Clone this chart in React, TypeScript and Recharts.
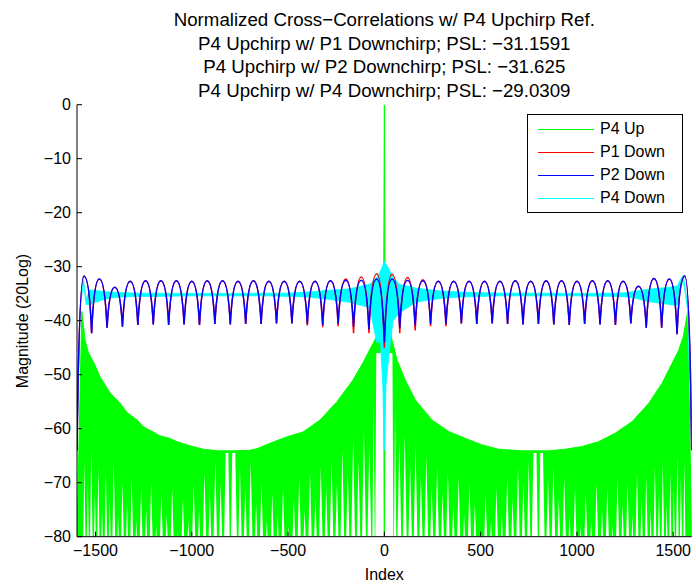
// Cross-correlation sidelobes of four polyphase chirps against a P4 up-chirp
// reference (MATLAB-style figure). The dense sample-by-sample ripple is drawn
// as envelopes: the P4 Up sidelobe band is the area
// under its peak envelope with its deep nulls cut back out in white, the two
// P1/P2 down-chirps are lobe extrema joined by an arch-shaped curve, and the
// fast P4 Down ripple is a low/high range band.
import { Area, ComposedChart, Line, XAxis, YAxis } from "recharts";

const W = 696;
const H = 586;
const FONT = '"Liberation Sans", Arial, Helvetica, sans-serif';

const X_DOMAIN: [number, number] = [-1596, 1596];
const X_TICKS = [-1500, -1000, -500, 0, 500, 1000, 1500];
const Y_TICKS = [-80, -70, -60, -50, -40, -30, -20, -10, 0];

const TITLE = [
  "Normalized Cross\u2212Correlations w/ P4 Upchirp Ref.",
  "P4 Upchirp w/ P1 Downchirp; PSL: \u221231.1591",
  "P4 Upchirp w/ P2 Downchirp; PSL: \u221231.625",
  "P4 Upchirp w/ P4 Downchirp; PSL: \u221229.0309",
];

const SERIES = [
  { name: "P4 Up", color: "#00ff00" },
  { name: "P1 Down", color: "#ff0000" },
  { name: "P2 Down", color: "#0000ff" },
  { name: "P4 Down", color: "#00ffff" },
];

// P4 Up: peak envelope of the sidelobes (and the 0 dB match at index 0)
const upIdx = [
  -1596, -1571, -1554, -1536, -1512, -1476, -1424, -1372, -1336, -1284, -1253, -1201, -1166, -1114, -1077,
  -1025, -993, -941, -860, -785, -700, -661, -594, -505, -422, -334, -246, -163, -111, -59, -33, -17, -4, 0, 4,
  17, 40, 66, 109, 161, 248, 334, 421, 507, 594, 715, 853, 940, 1026, 1113, 1200, 1286, 1373, 1442, 1494, 1528,
  1552, 1575, 1596,
];
const upDb = [
  -80, -38.3, -43.6, -46, -47.5, -50.4, -53.4, -55.3, -57, -58.4, -59.6, -60.6, -61.3, -61.8, -62.4,
  -63, -63.3, -63.8, -64.1, -64.1, -64, -63.7, -62.7, -61.5, -60.6, -58.4, -55, -51, -47.8, -44.2, -42.5, -39, -40, 0, -40,
  -39, -43.6, -47.3, -51, -54.7, -58.4, -60.5, -61.8, -63, -63.8, -64.1, -64.1, -63.8, -63.3, -62.4, -60.8, -58.7, -55.3, -51.6, -47.9, -45.5,
  -43, -38.3, -80,
];

// P4 Up: how far its nulls reach down (-88 = off the bottom of the axis)
const upNulls: [number, number][] = [
  [-1566, -88], [-1558, -66], [-1549, -88], [-1540, -70], [-1531, -88], [-1522, -64], [-1512, -88], [-1503, -72],
  [-1494, -88], [-1485, -67], [-1476, -88], [-1466, -75], [-1456, -88], [-1446, -68], [-1436, -88], [-1426, -73],
  [-1416, -88], [-1405, -66], [-1394, -88], [-1383, -76], [-1372, -88], [-1360, -70], [-1348, -88], [-1336, -74],
  [-1324, -88], [-1312, -69], [-1300, -88], [-1288, -77], [-1276, -88], [-1263, -71], [-1250, -88], [-1237, -75],
  [-1224, -88], [-1211, -70], [-1198, -88], [-1185, -78], [-1172, -88], [-1158, -72], [-1144, -88], [-1130, -76],
  [-1116, -88], [-1102, -71], [-1088, -88], [-1074, -79], [-1060, -88], [-1046, -73], [-1032, -88], [-1018, -77],
  [-1004, -88], [-990, -70], [-976, -88], [-962, -75], [-948, -88], [-934, -68], [-920, -88], [-906, -72],
  [-892, -88], [-878, -66], [-864, -88], [-850, -70], [-836, -88], [-824, -64.5], [-810, -64.5], [-800, -88],
  [-790, -64.5], [-774, -64.5], [-762, -88], [-750, -67], [-736, -88], [-722, -71], [-708, -88], [-694, -66],
  [-680, -88], [-666, -74], [-652, -88], [-638, -70], [-624, -88], [-610, -77], [-596, -88], [-582, -72],
  [-568, -88], [-554, -76], [-540, -88], [-526, -71], [-512, -88], [-498, -78], [-484, -88], [-470, -73],
  [-456, -88], [-442, -69], [-428, -88], [-414, -75], [-400, -88], [-386, -68], [-372, -88], [-358, -73],
  [-344, -88], [-330, -67], [-316, -88], [-302, -71], [-288, -88], [-274, -66], [-260, -88], [-246, -70],
  [-232, -88], [-218, -64], [-204, -88], [-190, -68], [-176, -88], [-162, -62], [-148, -88], [-134, -66],
  [-120, -88], [-106, -60], [-92, -88], [-78, -63], [-64, -88], [-56, -55], [-48, -88], [-42, -46], [-6, -46],
  [-3, -88], [3, -88], [6, -46], [42, -46], [48, -88], [56, -56], [64, -88], [78, -62], [92, -88], [106, -61],
  [120, -88], [134, -67], [148, -88], [162, -63], [176, -88], [190, -69], [204, -88], [218, -65], [232, -88],
  [246, -71], [260, -88], [274, -67], [288, -88], [302, -72], [316, -88], [330, -68], [344, -88], [358, -74],
  [372, -88], [386, -69], [400, -88], [414, -76], [428, -88], [442, -70], [456, -88], [470, -74], [484, -88],
  [498, -79], [512, -88], [526, -72], [540, -88], [554, -77], [568, -88], [582, -71], [596, -88], [610, -76],
  [624, -88], [638, -69], [652, -88], [666, -73], [680, -88], [694, -67], [708, -88], [722, -70], [736, -88],
  [750, -66], [762, -88], [774, -64.5], [790, -64.5], [800, -88], [810, -64.5], [824, -64.5], [836, -88],
  [850, -69], [864, -88], [878, -67], [892, -88], [906, -73], [920, -88], [934, -69], [948, -88], [962, -76],
  [976, -88], [990, -71], [1004, -88], [1018, -78], [1032, -88], [1046, -72], [1060, -88], [1074, -77],
  [1088, -88], [1102, -70], [1116, -88], [1130, -75], [1144, -88], [1158, -71], [1172, -88], [1185, -78],
  [1198, -88], [1211, -69], [1224, -88], [1237, -74], [1250, -88], [1263, -70], [1276, -88], [1288, -76],
  [1300, -88], [1312, -68], [1324, -88], [1336, -73], [1348, -88], [1360, -69], [1372, -88], [1383, -75],
  [1394, -88], [1405, -67], [1416, -88], [1426, -72], [1436, -88], [1446, -66], [1456, -88], [1466, -74],
  [1476, -88], [1485, -68], [1494, -88], [1503, -71], [1512, -88], [1522, -65], [1531, -88], [1540, -69],
  [1549, -88], [1558, -66], [1566, -88],
];

// P1 / P2 Down: lobe tops and nulls (nulls on multiples of 80)
const lobeIdx = [
  -1596, -1560, -1520, -1480, -1440, -1400, -1360, -1320, -1280, -1240, -1200, -1160, -1120, -1080, -1040,
  -1000, -960, -920, -880, -840, -800, -760, -720, -680, -640, -600, -560, -520, -480, -440, -400, -360, -320,
  -280, -240, -200, -160, -120, -80, -40, 0, 40, 80, 120, 160, 200, 240, 280, 320, 360, 400, 440, 480, 520, 560,
  600, 640, 680, 720, 760, 800, 840, 880, 920, 960, 1000, 1040, 1080, 1120, 1160, 1200, 1240, 1280, 1320, 1360,
  1400, 1440, 1480, 1520, 1560, 1596,
];
const p2Db = [
  -64, -31.7, -42.3, -32.3, -41.3, -33.8, -41.1, -32.7, -40.8, -32.6, -40.7, -32.6, -40.8, -32.6, -40.7,
  -32.7, -40.8, -32.6, -40.6, -32.6, -40.7, -32.7, -40.6, -32.6, -40.6, -32.7, -40.5, -32.7, -40.5, -32.7, -40.6, -32.7, -40.8,
  -32.6, -40.5, -32.5, -41.1, -32.5, -41.6, -32.3, -44, -32.3, -41.3, -32.5, -40.9, -32.6, -40.6, -32.7, -40.6, -32.7, -40.5, -32.7, -40.6, -32.7, -40.5,
  -32.7, -40.6, -32.6, -40.7, -32.7, -40.6, -32.6, -40.7, -32.6, -40.8, -32.7, -40.6, -32.6, -40.7, -32.6, -40.8, -32.7, -40.5, -33.6, -41.3,
  -32.2, -41.3, -32.3, -42.5, -31.7, -64,
];
const p1Db = [
  -64, -31.7, -42.3, -32.3, -41.3, -33.8, -41.1, -32.7, -40.8, -32.6, -40.7, -32.6, -40.8, -32.6, -40.7,
  -32.7, -40.8, -32.6, -40.6, -32.6, -40.7, -32.7, -40.6, -32.6, -40.6, -32.7, -40.5, -32.7, -40.5, -32.7, -40.9, -32.7, -41.2,
  -32.6, -41.0, -32.3, -42.3, -31.9, -42.3, -31.3, -45, -31.4, -42.3, -32.0, -41.8, -32.4, -41.0, -32.7, -41.0, -32.7, -40.5, -32.7, -40.6, -32.7, -40.5,
  -32.7, -40.6, -32.6, -40.7, -32.7, -40.6, -32.6, -40.7, -32.6, -40.8, -32.7, -40.6, -32.6, -40.7, -32.6, -40.8, -32.7, -40.5, -33.6, -41.3,
  -32.2, -41.3, -32.3, -42.5, -31.7, -64,
];

// P4 Down: spread of its fast ripple, low and high edge
const p4dIdx = [
  -1596, -1580, -1564, -1548, -1530, -1500, -1460, -1420, -1360, -1280, -1200, -1000, -800, -600, -500, -400,
  -300, -180, -75, -40, -20, -8, 0, 8, 25, 45, 80, 170, 290, 400, 600, 800, 1000, 1200, 1260, 1310, 1360, 1420,
  1480, 1520, 1552, 1575, 1596,
];
const p4dLow = [
  -64, -38.5, -32.8, -37.0, -37.0, -36.6, -36.1, -35.8, -35.6, -35.5, -35.5, -35.4, -35.4, -35.4, -35.5, -35.6,
  -36.0, -36.6, -37.6, -44, -44, -52, -64, -52, -46, -40, -38.5, -36.5, -35.9, -35.6, -35.4, -35.4, -35.4, -35.5, -35.6, -35.9, -36.4, -36.7,
  -37.0, -37.2, -32.3, -38.0, -64,
];
const p4dHigh = [
  -62, -37.5, -32.0, -36.0, -34.3, -34.4, -34.6, -34.7, -34.8, -34.9, -34.9, -34.95, -34.95, -34.9, -34.9, -34.7,
  -34.4, -34.1, -33.2, -32.0, -30.8, -29.8, -29.03, -29.5, -30.5, -32.0, -33.3, -34.0, -34.5, -34.7, -34.9, -34.9, -34.95, -34.9, -34.8, -34.5, -34.2, -34.0,
  -33.8, -33.6, -31.5, -37.0, -62,
];

const upRows = upIdx.map((x, i) => ({ x, v: upDb[i] }));
const nullRows = upNulls.map(([x, v]) => ({ x, v }));
const p1Rows = lobeIdx.map((x, i) => ({ x, v: p1Db[i] }));
const p2Rows = lobeIdx.map((x, i) => ({ x, v: p2Db[i] }));
const p4dRows = p4dIdx.map((x, i) => ({ x, v: [p4dLow[i], p4dHigh[i]] }));

const fmtTick = (v: number) => (v < 0 ? `\u2212${Math.abs(v)}` : String(v));

// d3 curve: rounded lobe tops, sharp notches at the nulls
const archCurve = (context: any) => {
  let pts: [number, number][] = [];
  return {
    areaStart() {},
    areaEnd() {},
    lineStart() {
      pts = [];
    },
    point(x: number, y: number) {
      pts.push([+x, +y]);
    },
    lineEnd() {
      if (!pts.length) return;
      context.moveTo(pts[0][0], pts[0][1]);
      for (let i = 1; i < pts.length; i++) {
        const [x0, y0] = pts[i - 1];
        const [x1, y1] = pts[i];
        const [lowX, highX, highY] = y0 > y1 ? [x0, x1, y1] : [x1, x0, y0];
        context.quadraticCurveTo(lowX + (highX - lowX) * 0.3, highY, x1, y1);
      }
    },
  };
};

const tickStyle = { fontSize: 16, fill: "#000", fontFamily: FONT };

export default function App() {
  return (
    <div style={{ position: "absolute", left: 0, top: 0, width: W, height: H, background: "#fff", fontFamily: FONT }}>
      <ComposedChart width={W} height={H} margin={{ top: 104.7, right: 4.3, bottom: 19.3, left: 0 }}>
        <Area
          data={upRows}
          dataKey="v"
          name="P4 Up"
          type="linear"
          baseValue={-80}
          stroke="#00ff00"
          strokeWidth={1}
          fill="#00ff00"
          fillOpacity={1}
          dot={false}
          activeDot={false}
          isAnimationActive={false}
        />
        <Area
          data={nullRows}
          dataKey="v"
          type="linear"
          baseValue={-80}
          stroke="none"
          fill="#ffffff"
          fillOpacity={1}
          legendType="none"
          dot={false}
          activeDot={false}
          isAnimationActive={false}
        />
        <Line
          data={p1Rows}
          dataKey="v"
          name="P1 Down"
          type={archCurve as any}
          stroke="#ff0000"
          strokeWidth={1.5}
          dot={false}
          activeDot={false}
          isAnimationActive={false}
        />
        <Line
          data={p2Rows}
          dataKey="v"
          name="P2 Down"
          type={archCurve as any}
          stroke="#0000ff"
          strokeWidth={1.5}
          dot={false}
          activeDot={false}
          isAnimationActive={false}
        />
        <Area
          data={p4dRows}
          dataKey="v"
          name="P4 Down"
          type="linear"
          stroke="#00ffff"
          strokeWidth={0.8}
          fill="#00ffff"
          fillOpacity={1}
          dot={false}
          activeDot={false}
          isAnimationActive={false}
        />
        <XAxis
          type="number"
          dataKey="x"
          domain={X_DOMAIN}
          allowDataOverflow
          ticks={X_TICKS}
          interval={0}
          tickFormatter={fmtTick}
          tick={tickStyle}
          tickSize={-5}
          tickMargin={13}
          height={30}
          axisLine={{ stroke: "#000" }}
          tickLine={{ stroke: "#000" }}
        />
        <XAxis
          xAxisId="top"
          orientation="top"
          type="number"
          dataKey="x"
          domain={X_DOMAIN}
          allowDataOverflow
          ticks={X_TICKS}
          interval={0}
          tick={false}
          tickSize={-5}
          height={0}
          axisLine={{ stroke: "#000" }}
          tickLine={{ stroke: "#000" }}
        />
        <YAxis
          type="number"
          domain={[-80, 0]}
          allowDataOverflow
          ticks={Y_TICKS}
          interval={0}
          tickFormatter={fmtTick}
          tick={tickStyle}
          tickSize={-5}
          tickMargin={11}
          width={77}
          axisLine={{ stroke: "#000" }}
          tickLine={{ stroke: "#000" }}
        />
        <YAxis
          yAxisId="right"
          orientation="right"
          type="number"
          domain={[-80, 0]}
          allowDataOverflow
          ticks={Y_TICKS}
          interval={0}
          tick={false}
          tickSize={-5}
          width={0}
          axisLine={{ stroke: "#000" }}
          tickLine={{ stroke: "#000" }}
        />
      </ComposedChart>

      {TITLE.map((t, i) => (
        <div
          key={i}
          style={{
            position: "absolute",
            left: 84.3,
            width: 600,
            top: 8 + i * 23.5,
            lineHeight: "23.5px",
            fontSize: 18.7,
            textAlign: "center",
            color: "#000",
            whiteSpace: "nowrap",
          }}
        >
          {t}
        </div>
      ))}

      <div
        style={{
          position: "absolute",
          left: 22.7 - 100,
          top: 320.7 - 10,
          width: 200,
          height: 20,
          lineHeight: "20px",
          fontSize: 16,
          textAlign: "center",
          transform: "rotate(-90deg)",
          color: "#000",
        }}
      >
        Magnitude (20Log)
      </div>
      <div
        style={{
          position: "absolute",
          left: 384.3 - 50,
          top: 575 - 10,
          width: 100,
          lineHeight: "20px",
          fontSize: 16,
          textAlign: "center",
          color: "#000",
        }}
      >
        Index
      </div>

      <div
        style={{
          position: "absolute",
          left: 527,
          top: 114,
          width: 156,
          height: 99,
          boxSizing: "border-box",
          border: "1px solid #000",
          background: "#fff",
        }}
      >
        {SERIES.map((s, i) => (
          <div key={s.name}>
            <div
              style={{
                position: "absolute",
                left: 10,
                top: 14 + i * 23,
                width: 56,
                height: 1,
                background: s.color,
              }}
            />
            <div
              style={{
                position: "absolute",
                left: 72,
                top: 3 + i * 23,
                lineHeight: "22px",
                fontSize: 16,
                color: "#000",
                whiteSpace: "nowrap",
              }}
            >
              {s.name}
            </div>
          </div>
        ))}
      </div>
    </div>
  );
}
